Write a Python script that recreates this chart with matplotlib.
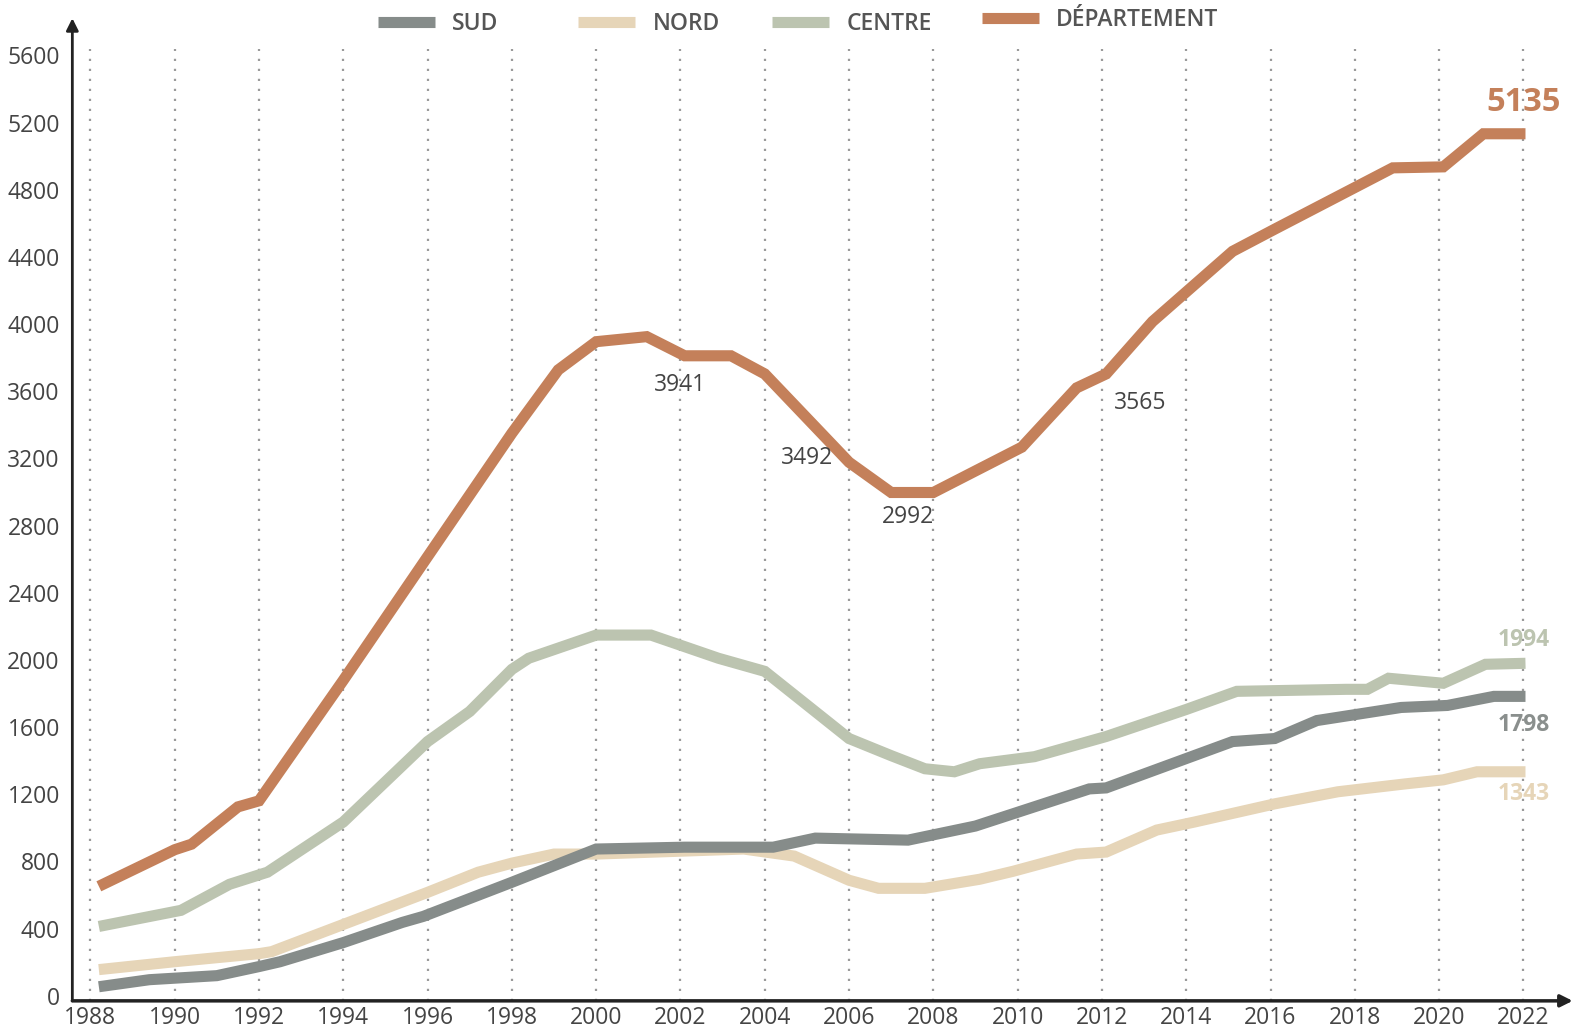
import matplotlib.pyplot as plt
from matplotlib.lines import Line2D

plt.rcParams['font.family'] = ['Open Sans', 'DejaVu Sans']

# data (year, value) - vertices are not on whole years
sud_x = [1988.2, 1989.4, 1991.0, 1992.0, 1992.5, 1994.0, 1995.4, 1995.9, 1998.0, 2000.0,
         2002.1, 2004.2, 2005.2, 2007.4, 2009.0, 2011.7, 2012.1, 2015.1, 2016.1, 2017.1,
         2019.1, 2020.2, 2021.3, 2022.05]
sud_y = [54, 96, 120, 174, 203, 317, 437, 473, 676, 874,
         885, 885, 939, 927, 1011, 1232, 1238, 1514, 1532, 1639,
         1717, 1729, 1783, 1783]

nord_x = [1988.2, 1990.0, 1992.0, 1992.3, 1994.0, 1996.0, 1997.2, 1998.0, 1999.0, 2000.0,
          2002.1, 2003.5, 2004.7, 2006.0, 2006.7, 2007.8, 2009.1, 2009.9, 2011.4, 2012.1,
          2013.3, 2014.2, 2016.1, 2017.6, 2019.2, 2020.1, 2020.9, 2022.05]
nord_y = [156, 203, 251, 263, 425, 616, 736, 790, 844, 844,
          862, 874, 832, 688, 640, 640, 694, 742, 844, 856,
          987, 1035, 1143, 1215, 1262, 1286, 1334, 1334]

centre_x = [1988.2, 1990.15, 1991.3, 1992.2, 1994.0, 1996.0, 1997.0, 1998.0, 1998.4, 2000.0,
            2001.3, 2002.9, 2004.0, 2006.0, 2007.0, 2007.8, 2008.5, 2009.1, 2010.4, 2012.1,
            2014.0, 2015.2, 2017.8, 2018.3, 2018.8, 2020.1, 2021.1, 2022.05]
centre_y = [413, 509, 664, 736, 1035, 1514, 1693, 1944, 2010, 2148,
            2148, 2010, 1932, 1532, 1430, 1352, 1334, 1382, 1424, 1544,
            1705, 1813, 1825, 1825, 1891, 1861, 1974, 1980]

dep_x = [1988.2, 1990.0, 1990.4, 1991.5, 1992.0, 1994.0, 1996.0, 1998.0, 1999.1, 2000.0,
         2001.2, 2002.1, 2003.2, 2004.0, 2006.0, 2007.0, 2008.0, 2010.1, 2011.4, 2012.1,
         2013.2, 2015.1, 2016.1, 2018.9, 2020.1, 2021.05, 2022.05]
dep_y = [652, 870, 903, 1125, 1161, 1879, 2615, 3350, 3727, 3895,
         3925, 3811, 3811, 3703, 3177, 2997, 2997, 3267, 3620, 3703,
         4015, 4433, 4565, 4930, 4936, 5133, 5133]

names = ['SUD', 'NORD', 'CENTRE', 'DÉPARTEMENT']
colors = ['#868c8a', '#e6d5b8', '#bcc4b0', '#c4805a']

years = list(range(1988, 2023, 2))
yticks = list(range(0, 5601, 400))

# annotations on the departement curve
notes = [('3941', 2002.0, 3640), ('3492', 2005.0, 3200), ('2992', 2007.4, 2850), ('3565', 2012.9, 3530)]

fig = plt.figure(figsize=(15.76, 10.30), dpi=100)
ax = fig.add_axes([0.0459, 0.0283, 0.952, 0.954])
ax.set_xlim(1987.571, 2023.17)
ax.set_ylim(-30, 5821)

ax.vlines(years, -30, 5640, colors='#9a9a9a', linestyles=(0, (1, 3.5)), linewidth=1.6, zorder=1)

kw = dict(solid_joinstyle='miter', solid_capstyle='butt', zorder=3)
ax.plot(nord_x, nord_y, color=colors[1], lw=8, **kw)
ax.plot(sud_x, sud_y, color=colors[0], lw=8, **kw)
ax.plot(centre_x, centre_y, color=colors[2], lw=8, **kw)
ax.plot(dep_x, dep_y, color=colors[3], lw=8, **kw)

for s in ax.spines.values():
    s.set_visible(False)
ax.annotate('', xy=(0, 1), xytext=(0, 0), xycoords='axes fraction',
            arrowprops=dict(arrowstyle='-|>', color='#222222', lw=2, mutation_scale=18, shrinkA=0, shrinkB=0))
ax.annotate('', xy=(1, 0), xytext=(0, 0), xycoords='axes fraction',
            arrowprops=dict(arrowstyle='-|>', color='#222222', lw=2.5, mutation_scale=18, shrinkA=0, shrinkB=0))

ax.set_xticks(years)
ax.set_yticks(yticks)
ax.tick_params(length=0, labelsize=16.5, labelcolor='#444444')
ax.tick_params(axis='y', pad=9)
ax.tick_params(axis='x', pad=4)

for txt, x, y in notes:
    ax.text(x, y, txt, fontsize=16.5, color='#444444', ha='center', va='center')

ax.text(2022.0, dep_y[-1] + 90, '5135', fontsize=23.5, fontweight='bold', color=colors[3], ha='center', va='bottom')
ax.text(2022.0, centre_y[-1] + 70, '1994', fontsize=16.5, fontweight='bold', color=colors[2], ha='center', va='bottom')
ax.text(2022.0, sud_y[-1] - 100, '1798', fontsize=16.5, fontweight='bold', color='#8a8f8d', ha='center', va='top')
ax.text(2022.0, nord_y[-1] - 60, '1343', fontsize=16.5, fontweight='bold', color=colors[1], ha='center', va='top')

# legend drawn by hand along the top
leg_x = [0.240, 0.367, 0.490, 0.623]
leg_y = [0.979, 0.979, 0.979, 0.983]
for name, c, lx, ly in zip(names, colors, leg_x, leg_y):
    fig.add_artist(Line2D([lx, lx + 0.036], [ly, ly], color=c, lw=8, solid_capstyle='butt'))
    fig.text(lx + 0.047, ly - 0.002, name, fontsize=16.5, fontweight='semibold', color='#555555', va='center')

fig.savefig('out.png', dpi=100)
